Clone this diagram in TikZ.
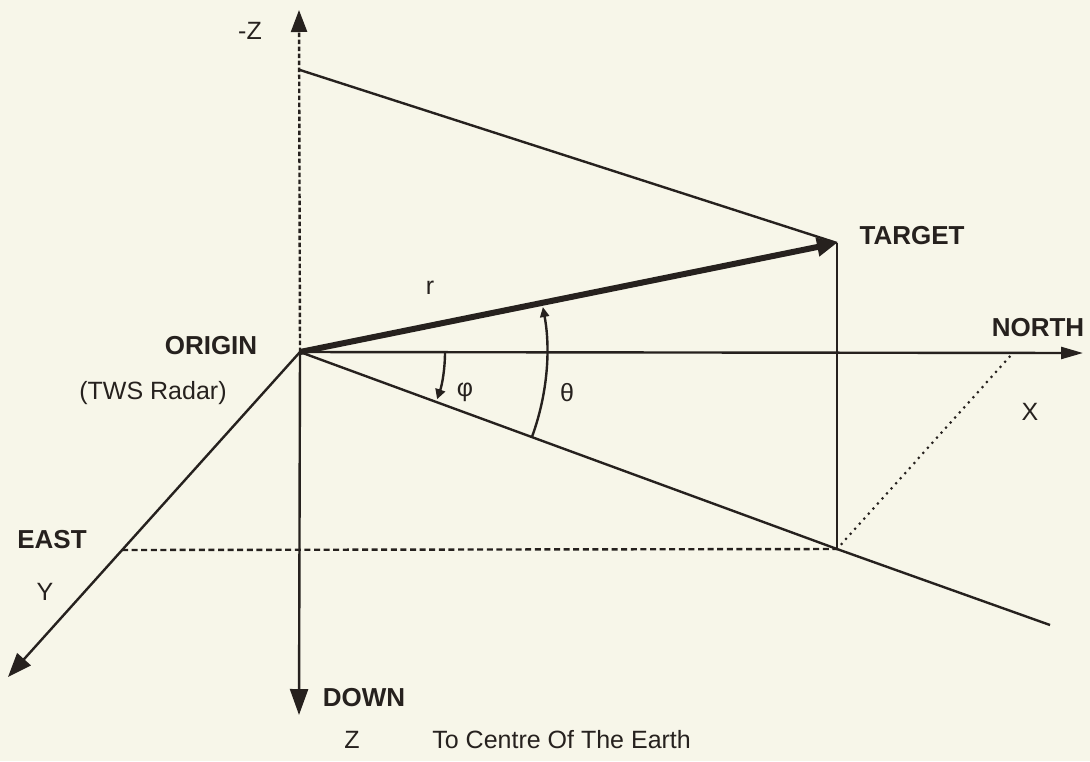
\documentclass[tikz,border=0pt]{standalone}
\usepackage{fontspec}
\setmainfont{Liberation Sans}
\usetikzlibrary{arrows.meta}
\definecolor{bg}{RGB}{247,246,233}
\definecolor{ink}{RGB}{38,33,30}
\begin{document}
\begin{tikzpicture}[x=0.5pt,y=-0.5pt,
  ink/.style={draw=ink,line width=1.2pt},
  lbl/.style={text=ink,inner sep=0pt,font=\fontsize{12.5}{15}\selectfont},
  blbl/.style={lbl,font=\fontsize{13}{15}\selectfont\bfseries},
  zdash/.style={ink,dash pattern=on 2.2pt off 1.3pt},
  hdash/.style={ink,dash pattern=on 3pt off 1.8pt},
  dotline/.style={ink,line cap=round,dash pattern=on 0pt off 3.4pt,line width=1.5pt}]
\fill[bg] (0,0) rectangle (1090,761);
\useasboundingbox (0,0) rectangle (1090,761);
% points
\coordinate (O) at (300,352);
\coordinate (T) at (837,243);
\coordinate (F) at (837,549);
\coordinate (Zt) at (299,10);
\coordinate (Zb) at (299,715);
\coordinate (Nt) at (1083,353);
\coordinate (Et) at (8,677);
\coordinate (Zh) at (300,70);
\coordinate (Le) at (1050,625);
\coordinate (Ds) at (122,550);
\coordinate (Xn) at (1013,353);
% axes
\draw[zdash,-{Triangle[length=11pt,width=8pt]}] (O) -- (Zt);
\draw[ink,-{Triangle[length=13pt,width=9pt]}] (O) -- (Zb);
\draw[ink,-{Triangle[length=11pt,width=6pt]}] (O) -- (Nt);
\draw[ink,-{Triangle[length=12pt,width=9pt]}] (O) -- (Et);
% construction lines
\draw[ink] (Zh) -- (T);
\draw[ink] (T) -- (F);
\draw[ink] (O) -- (F) -- (Le);
\draw[hdash] (Ds) -- (F);
\draw[dotline] (F) -- (Xn);
% range vector
\draw[draw=ink,line width=3pt,-{Triangle[length=10pt,width=9pt]}] (O) -- (T);
% angle arcs
\draw[ink,-{Triangle[length=5pt,width=4.5pt]}] (O) ++(20:247) arc[start angle=20,end angle=-10.5,radius=247];
\draw[ink,-{Triangle[length=5pt,width=5pt]}] (O) ++(0:145) arc[start angle=0,end angle=19,radius=145];
% labels
\node[lbl] (mz) at (250,31) {-Z};
\node[blbl] (origin) at (211,346) {ORIGIN};
\node[lbl] (tws) at (153,393) {(TWS Radar)};
\node[blbl] (east) at (52,540) {EAST};
\node[lbl] (y) at (45,592) {Y};
\node[lbl] (r) at (430,288) {r};
\node[lbl] (phi) at (465,392) {φ};
\node[lbl] (theta) at (567,393) {θ};
\node[blbl] (target) at (912,236) {TARGET};
\node[blbl] (north) at (1038,328) {NORTH};
\node[lbl] (x) at (1030,412) {X};
\node[blbl] (down) at (364,698) {DOWN};
\node[lbl] (z) at (352,740) {Z};
\node[lbl,anchor=west] (centre) at (432,740) {To Centre Of The Earth};
\end{tikzpicture}
\end{document}
